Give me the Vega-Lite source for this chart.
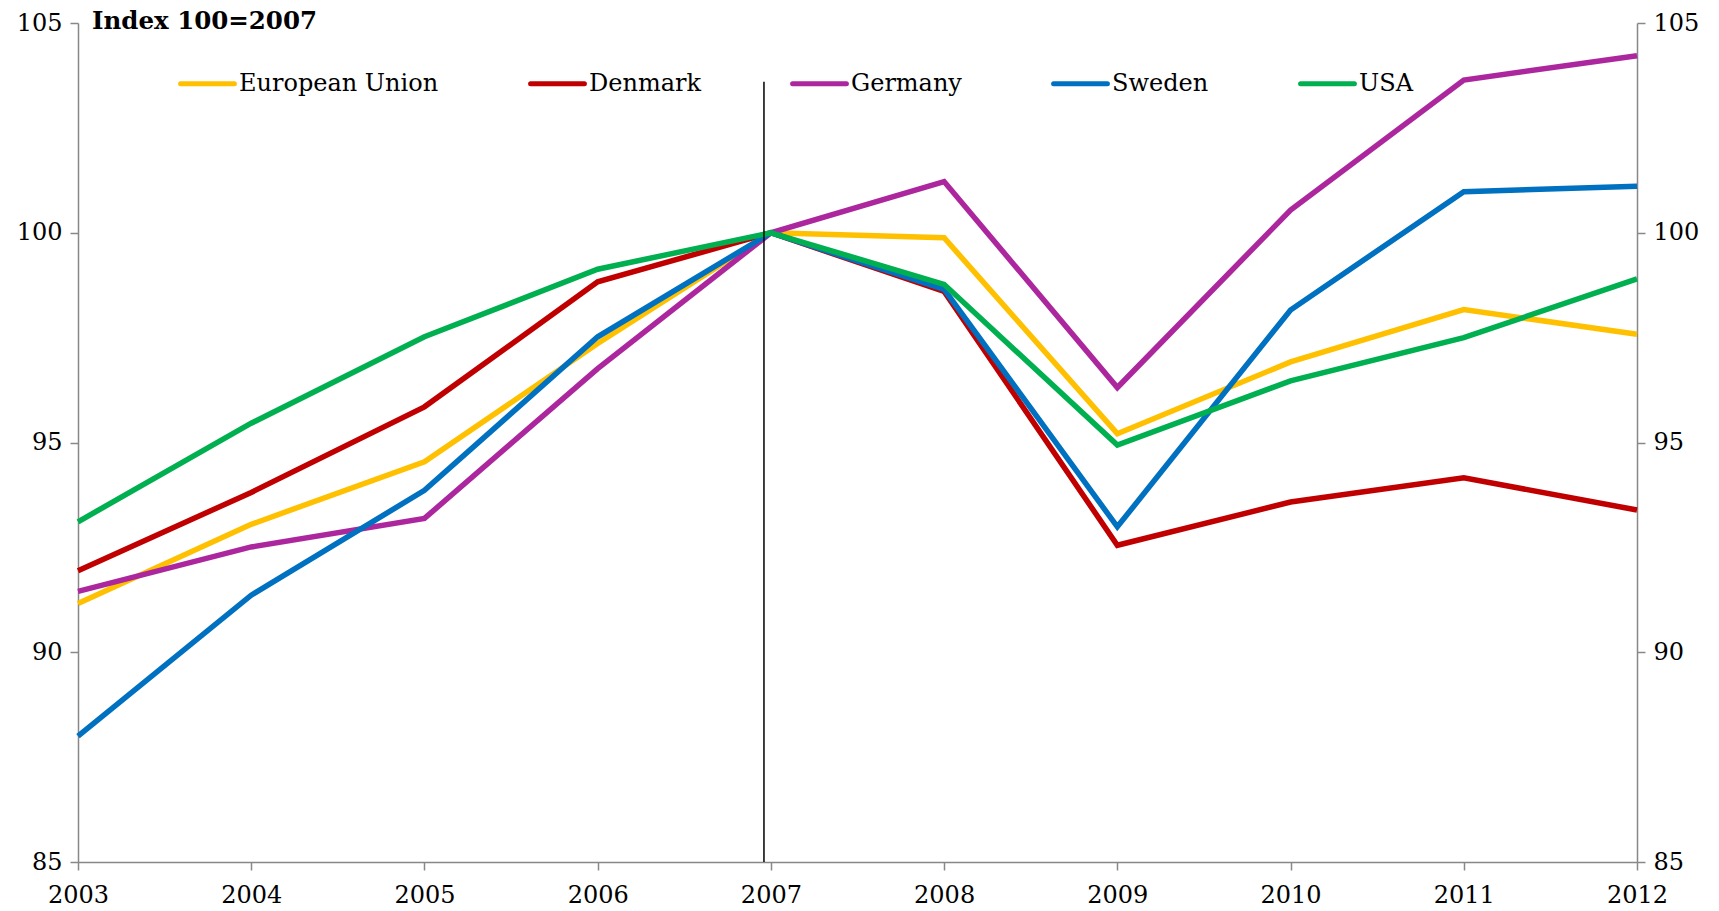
{
  "$schema": "https://vega.github.io/schema/vega-lite/v6.json",
  "width": 1559,
  "height": 839,
  "autosize": "none",
  "padding": {"left": 78, "top": 23, "right": 82, "bottom": 49},
  "background": "white",
  "config": {
    "view": {"stroke": null},
    "font": "DejaVu Serif",
    "axis": {
      "labelFont": "DejaVu Serif",
      "labelFontSize": 24,
      "labelColor": "#000000",
      "domainColor": "#888888",
      "domainWidth": 1.5,
      "tickColor": "#888888",
      "tickWidth": 1.5,
      "tickSize": 8,
      "grid": false,
      "title": null
    }
  },
  "title": {
    "text": "Index 100=2007",
    "anchor": "start",
    "frame": "group",
    "orient": "top",
    "font": "DejaVu Serif",
    "fontSize": 24.5,
    "fontWeight": "bold",
    "color": "#000000",
    "baseline": "middle",
    "offset": -35,
    "dx": 14
  },
  "encoding": {
    "x": {
      "field": "year",
      "type": "quantitative",
      "scale": {"domain": [2003, 2012], "nice": false, "zero": false},
      "axis": {
        "values": [2003, 2004, 2005, 2006, 2007, 2008, 2009, 2010, 2011, 2012],
        "format": "d",
        "labelPadding": 13,
        "labelFlush": false,
        "labelOverlap": false
      }
    }
  },
  "layer": [
    {
      "data": {
        "values": [
          {"year": 2003, "series": "European Union", "value": 91.16},
          {"year": 2004, "series": "European Union", "value": 93.05},
          {"year": 2005, "series": "European Union", "value": 94.54},
          {"year": 2006, "series": "European Union", "value": 97.36},
          {"year": 2007, "series": "European Union", "value": 100},
          {"year": 2008, "series": "European Union", "value": 99.88},
          {"year": 2009, "series": "European Union", "value": 95.21},
          {"year": 2010, "series": "European Union", "value": 96.92},
          {"year": 2011, "series": "European Union", "value": 98.17},
          {"year": 2012, "series": "European Union", "value": 97.58},
          {"year": 2003, "series": "Denmark", "value": 91.94},
          {"year": 2004, "series": "Denmark", "value": 93.81},
          {"year": 2005, "series": "Denmark", "value": 95.85},
          {"year": 2006, "series": "Denmark", "value": 98.83},
          {"year": 2007, "series": "Denmark", "value": 100},
          {"year": 2008, "series": "Denmark", "value": 98.6},
          {"year": 2009, "series": "Denmark", "value": 92.55},
          {"year": 2010, "series": "Denmark", "value": 93.58},
          {"year": 2011, "series": "Denmark", "value": 94.16},
          {"year": 2012, "series": "Denmark", "value": 93.39},
          {"year": 2003, "series": "Germany", "value": 91.45},
          {"year": 2004, "series": "Germany", "value": 92.51},
          {"year": 2005, "series": "Germany", "value": 93.19},
          {"year": 2006, "series": "Germany", "value": 96.76},
          {"year": 2007, "series": "Germany", "value": 100},
          {"year": 2008, "series": "Germany", "value": 101.22},
          {"year": 2009, "series": "Germany", "value": 96.31},
          {"year": 2010, "series": "Germany", "value": 100.54},
          {"year": 2011, "series": "Germany", "value": 103.64},
          {"year": 2012, "series": "Germany", "value": 104.22},
          {"year": 2003, "series": "Sweden", "value": 88.0},
          {"year": 2004, "series": "Sweden", "value": 91.36},
          {"year": 2005, "series": "Sweden", "value": 93.86},
          {"year": 2006, "series": "Sweden", "value": 97.52},
          {"year": 2007, "series": "Sweden", "value": 100},
          {"year": 2008, "series": "Sweden", "value": 98.65},
          {"year": 2009, "series": "Sweden", "value": 92.99},
          {"year": 2010, "series": "Sweden", "value": 98.16},
          {"year": 2011, "series": "Sweden", "value": 100.98},
          {"year": 2012, "series": "Sweden", "value": 101.11},
          {"year": 2003, "series": "USA", "value": 93.11},
          {"year": 2004, "series": "USA", "value": 95.46},
          {"year": 2005, "series": "USA", "value": 97.52},
          {"year": 2006, "series": "USA", "value": 99.13},
          {"year": 2007, "series": "USA", "value": 100},
          {"year": 2008, "series": "USA", "value": 98.77},
          {"year": 2009, "series": "USA", "value": 94.94},
          {"year": 2010, "series": "USA", "value": 96.47},
          {"year": 2011, "series": "USA", "value": 97.5},
          {"year": 2012, "series": "USA", "value": 98.9}
        ]
      },
      "mark": {"type": "line", "strokeWidth": 5.5, "strokeJoin": "miter"},
      "encoding": {
        "y": {
          "field": "value",
          "type": "quantitative",
          "scale": {"domain": [85, 105], "nice": false, "zero": false},
          "axis": {"orient": "left", "values": [85, 90, 95, 100, 105], "labelPadding": 8}
        },
        "color": {
          "field": "series",
          "type": "nominal",
          "sort": null,
          "scale": {
            "domain": ["European Union", "Denmark", "Germany", "Sweden", "USA"],
            "range": ["#FFC000", "#C00000", "#AC279D", "#0070C0", "#00B050"]
          },
          "legend": {
            "orient": "none",
            "legendX": 100,
            "legendY": 31,
            "direction": "horizontal",
            "title": null,
            "symbolType": "stroke",
            "symbolSize": 2900,
            "symbolStrokeWidth": 5,
            "labelFont": "DejaVu Serif",
            "labelFontSize": 24,
            "labelColor": "#000000",
            "labelOffset": 2,
            "labelLimit": 400,
            "columnPadding": 81,
            "encode": {"symbols": {"update": {"strokeCap": {"value": "round"}}}}
          }
        }
      }
    },
    {
      "data": {"values": [{"year": 2006.96, "top": 103.6, "bottom": 85}]},
      "mark": {"type": "rule", "color": "#000000", "strokeWidth": 1.5},
      "encoding": {
        "y": {
          "field": "top",
          "type": "quantitative",
          "scale": {"domain": [85, 105], "nice": false, "zero": false},
          "axis": {"orient": "right", "values": [85, 90, 95, 100, 105], "labelPadding": 8}
        },
        "y2": {"field": "bottom"}
      }
    }
  ],
  "resolve": {"axis": {"y": "independent"}}
}
